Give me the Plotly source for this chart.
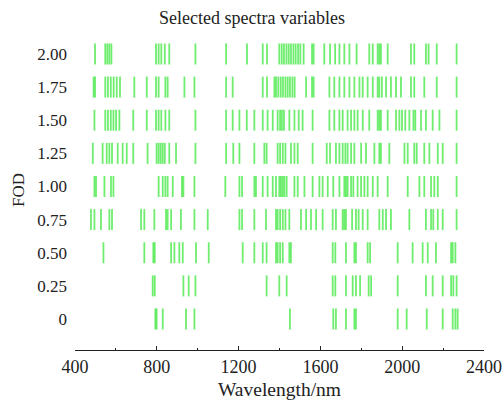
import plotly.graph_objects as go

# Selected wavelengths (nm) per FOD level
fod_000 = [793, 799, 829, 943, 984, 1451, 1663, 1676, 1725, 1766, 1774, 1978, 2022, 2120, 2198, 2247, 2260, 2271]
fod_025 = [780, 790, 930, 956, 989, 1337, 1399, 1435, 1660, 1673, 1725, 1758, 1774, 1794, 1836, 1848, 1978, 2116, 2149, 2198, 2239, 2250, 2266]
fod_050 = [539, 739, 783, 790, 870, 886, 910, 927, 992, 1054, 1220, 1277, 1318, 1337, 1383, 1391, 1403, 1416, 1448, 1456,
           1660, 1673, 1725, 1766, 1774, 1831, 1843, 1978, 2051, 2100, 2125, 2165, 2239, 2247, 2260]
fod_075 = [478, 495, 527, 568, 581, 723, 739, 788, 845, 853, 870, 918, 984, 1049, 1204, 1217, 1277, 1334, 1383, 1391, 1403,
           1416, 1429, 1448, 1505, 1530, 1554, 1579, 1611, 1660, 1676, 1709, 1717, 1725, 1755, 1774, 1787, 1807, 1831, 1888,
           1905, 1921, 1945, 2035, 2116, 2141, 2152, 2174, 2198, 2266]
fod_100 = [495, 503, 544, 576, 588, 809, 829, 842, 853, 878, 923, 930, 984, 1135, 1204, 1217, 1277, 1285, 1318, 1342, 1367,
           1383, 1399, 1407, 1416, 1424, 1435, 1473, 1489, 1522, 1562, 1595, 1611, 1636, 1663, 1693, 1717, 1725, 1733, 1750,
           1761, 1782, 1799, 1815, 1831, 1856, 1880, 1929, 2027, 2084, 2108, 2141, 2157, 2174, 2266]
fod_125 = [487, 535, 555, 568, 581, 609, 633, 653, 685, 755, 799, 809, 819, 829, 839, 861, 894, 989, 1139, 1174, 1204, 1277,
           1326, 1337, 1391, 1403, 1416, 1429, 1456, 1473, 1489, 1562, 1631, 1647, 1676, 1693, 1709, 1722, 1733, 1750, 1766,
           1799, 1823, 1864, 1888, 1896, 1937, 2011, 2027, 2059, 2071, 2108, 2133, 2174, 2198, 2266]
fod_150 = [495, 548, 561, 575, 588, 601, 617, 685, 751, 796, 809, 822, 842, 861, 989, 1139, 1171, 1204, 1240, 1277, 1318,
           1342, 1367, 1391, 1403, 1412, 1422, 1448, 1473, 1494, 1513, 1562, 1644, 1668, 1693, 1709, 1733, 1750, 1766, 1782,
           1807, 1839, 1880, 1888, 1896, 1929, 1970, 1986, 1999, 2015, 2035, 2055, 2064, 2092, 2116, 2149, 2182, 2266]
fod_175 = [491, 498, 548, 561, 575, 589, 604, 620, 690, 751, 796, 809, 842, 853, 935, 984, 1139, 1171, 1318, 1339, 1375,
           1383, 1394, 1406, 1417, 1429, 1440, 1451, 1463, 1474, 1530, 1559, 1567, 1644, 1668, 1693, 1717, 1742, 1766, 1791,
           1807, 1831, 1856, 1880, 1888, 1901, 1921, 1945, 1970, 1994, 2043, 2059, 2108, 2169, 2266]
fod_200 = [498, 548, 558, 568, 578, 796, 809, 822, 839, 861, 989, 1139, 1241, 1318, 1339, 1399, 1411, 1422, 1434, 1445,
           1456, 1468, 1479, 1491, 1502, 1518, 1559, 1567, 1619, 1647, 1672, 1693, 1717, 1742, 1777, 1839, 1856, 1880, 1888,
           1896, 1929, 2043, 2059, 2116, 2129, 2169, 2266]

fod_levels = [0, 0.25, 0.5, 0.75, 1.0, 1.25, 1.5, 1.75, 2.0]
fod_labels = ["0", "0.25", "0.50", "0.75", "1.00", "1.25", "1.50", "1.75", "2.00"]
rows = [fod_000, fod_025, fod_050, fod_075, fod_100, fod_125, fod_150, fod_175, fod_200]

x_ticks = [400, 800, 1200, 1600, 2000, 2400]

fig = go.Figure()
for lvl, wl in zip(fod_levels, rows):
    fig.add_trace(go.Scatter(
        x=wl, y=[lvl] * len(wl), mode="markers",
        marker=dict(symbol="line-ns", size=15,
                    line=dict(width=1.8, color="rgba(50,230,50,0.7)")),
        showlegend=False, hoverinfo="x+y"))

font = "Liberation Serif, Times New Roman, serif"
fig.update_layout(
    width=504, height=400,
    margin=dict(l=75, r=20, t=30, b=50),
    paper_bgcolor="white", plot_bgcolor="white",
    font=dict(family=font, size=17, color="#222"),
    title=dict(text="Selected spectra variables", x=0.5, xanchor="center", y=0.955, yanchor="middle",
               font=dict(family=font, size=18, color="#222")),
    xaxis=dict(range=[400, 2400], tickvals=x_ticks, ticktext=[str(v) for v in x_ticks],
               showline=True, linecolor="#222", linewidth=1, ticks="inside", ticklen=4, tickcolor="#222",
               minor=dict(ticks="inside", ticklen=2, tick0=400, dtick=200, tickcolor="#222"),
               showgrid=False, zeroline=False, tickfont=dict(size=18), automargin=False,
               title=dict(text="Wavelength/nm", font=dict(size=19.5), standoff=16)),
    yaxis=dict(range=[-0.234, 2.181], tickvals=fod_levels, ticktext=fod_labels,
               showline=False, ticks="", showgrid=False, zeroline=False, tickfont=dict(size=17),
               ticklabelstandoff=7, automargin=False,
               title=dict(text="FOD", font=dict(size=17), standoff=8)),
)

fig.write_html("out.html")
